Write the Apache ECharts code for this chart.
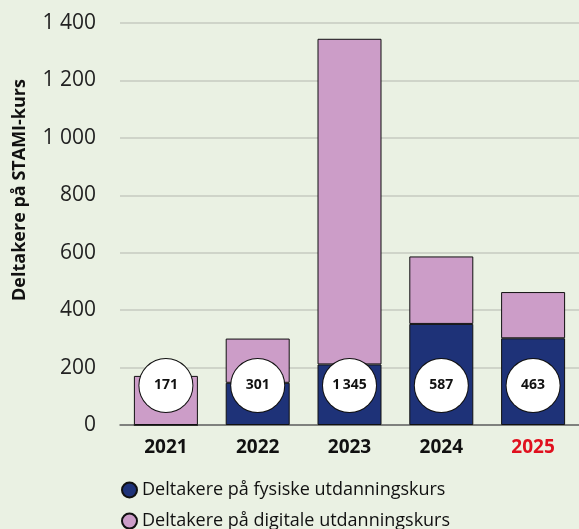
<!DOCTYPE html>
<html>
<head>
<meta charset="utf-8">
<script src="https://cdn.jsdelivr.net/npm/echarts@6/dist/echarts.min.js"></script>
<style>
  html, body { margin: 0; padding: 0; background: #eaf1e3; }
  #chart { width: 579px; height: 529px; }
</style>
</head>
<body>
<div id="chart"></div>
<script>
// Participants in STAMI courses per year
const years = ['2021', '2022', '2023', '2024', '2025'];
const fysiske = [0, 147, 211, 352, 302];
const digitale = [171, 154, 1134, 235, 161];
const totals = [171, 301, 1345, 587, 463];
const yTicks = [0, 200, 400, 600, 800, 1000, 1200, 1400];
const seriesNames = ['Deltakere på fysiske utdanningskurs', 'Deltakere på digitale utdanningskurs'];
const yTitle = 'Deltakere på STAMI-kurs';

const fmt = v => String(v).replace(/\B(?=(\d{3})+(?!\d))/g, '\u2009');
const fmtAxis = v => String(v).replace(/\B(?=(\d{3})+(?!\d))/g, ' ');

const chart = echarts.init(document.getElementById('chart'));
const font = 'Open Sans';

const legendBase = {
  orient: 'horizontal',
  left: 116,
  itemWidth: 15,
  itemHeight: 15,
  itemGap: 10,
  icon: 'circle',
  textStyle: { fontSize: 18, color: '#111', fontFamily: font }
};

chart.setOption({
  backgroundColor: '#eaf1e3',
  animation: false,
  textStyle: { fontFamily: font },
  grid: { left: 120, top: 23, width: 461, height: 402, containLabel: false },
  legend: [
    Object.assign({}, legendBase, { top: 476, data: [seriesNames[0]] }),
    Object.assign({}, legendBase, { top: 507, data: [seriesNames[1]] })
  ],
  graphic: [{
    type: 'text',
    x: 20,
    y: 190,
    rotation: Math.PI / 2,
    style: {
      text: yTitle,
      font: 'bold 18px "Open Sans"',
      fill: '#111',
      align: 'center',
      verticalAlign: 'middle'
    }
  }],
  xAxis: {
    type: 'category',
    data: years,
    axisLine: { show: true, lineStyle: { color: '#666', width: 1.5 } },
    axisTick: { show: false },
    axisLabel: {
      fontSize: 19,
      fontWeight: 'bold',
      margin: 13,
      color: (v) => v === '2025' ? '#e0101e' : '#111'
    }
  },
  yAxis: {
    type: 'value',
    min: yTicks[0],
    max: yTicks[yTicks.length - 1],
    interval: 200,
    axisLine: { show: false },
    axisTick: { show: false },
    axisLabel: { fontSize: 21, color: '#222', margin: 24, formatter: fmtAxis },
    splitLine: { lineStyle: { color: '#c6cac0', width: 1.5 } }
  },
  series: [
    {
      name: seriesNames[0],
      type: 'bar',
      stack: 'total',
      barWidth: 64,
      barGap: '-100%',
      data: fysiske,
      itemStyle: { color: '#1e3278', borderColor: '#111', borderWidth: 1 }
    },
    {
      name: seriesNames[1],
      type: 'bar',
      stack: 'total',
      barWidth: 64,
      data: digitale,
      itemStyle: { color: '#cc9dc8', borderColor: '#111', borderWidth: 1 }
    },
    {
      name: 'Totalt',
      type: 'bar',
      barWidth: 64,
      barGap: '-100%',
      z: 5,
      silent: true,
      data: totals,
      itemStyle: { color: 'rgba(0,0,0,0)' },
      label: {
        show: true,
        position: 'insideBottom',
        distance: 13,
        formatter: p => fmt(p.value),
        width: 53,
        height: 53,
        lineHeight: 53,
        align: 'center',
        borderRadius: 27,
        backgroundColor: '#ffffff',
        borderColor: '#111',
        borderWidth: 1,
        fontSize: 14,
        fontWeight: 'bold',
        color: '#111',
        fontFamily: font
      }
    }
  ]
});
</script>
</body>
</html>
